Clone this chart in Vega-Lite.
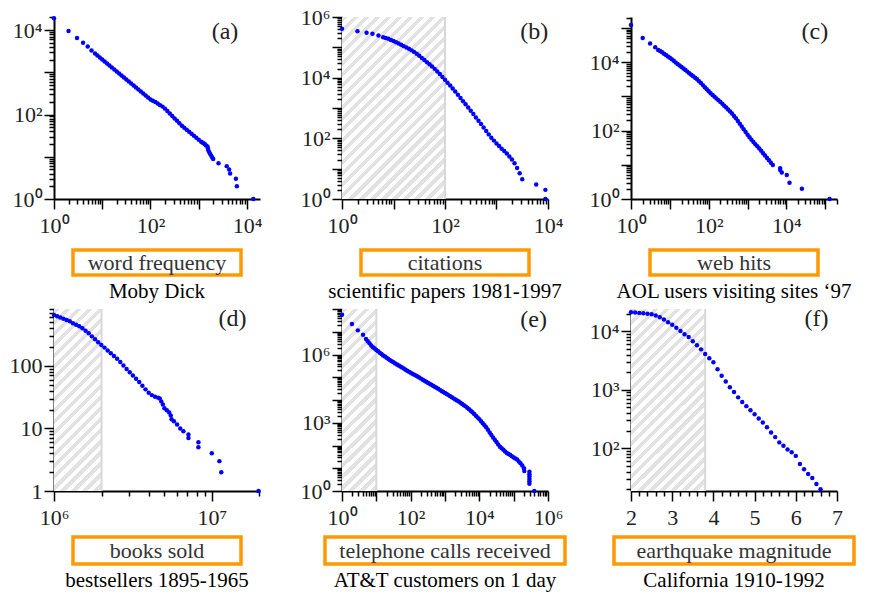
{
"$schema": "https://vega.github.io/schema/vega-lite/v6.json",
"background": "white",
"padding": {"left": 9, "top": 6, "right": 0, "bottom": 0},
"config": {
  "view": {"stroke": null},
  "font": "Liberation Serif",
  "axis": {"grid": false, "domainColor": "#000", "domainWidth": 2, "tickColor": "#000", "tickWidth": 1.5, "tickCount": 100, "labelFont": "Liberation Serif", "labelFontSize": 22, "labelColor": "#222", "labelFlush": false, "labelOverlap": false},
  "axisX": {"labelPadding": 6},
  "axisY": {"labelPadding": 2},
  "title": {"font": "Liberation Serif", "fontSize": 21, "fontWeight": "normal", "color": "#000", "offset": 6}
},
"datasets": {
  "a": [{"x":1,"y":19000},{"x":2,"y":9500},{"x":3,"y":6500},{"x":4,"y":5000},{"x":5,"y":4100},{"x":6,"y":3300},{"x":7.08,"y":2800},{"x":7.94,"y":2506},{"x":8.91,"y":2246},{"x":10,"y":2014},{"x":11.2,"y":1805},{"x":12.6,"y":1618},{"x":14.1,"y":1450},{"x":15.8,"y":1300},{"x":17.8,"y":1166},{"x":20,"y":1045},{"x":22.4,"y":937},{"x":25.1,"y":839},{"x":28.2,"y":752},{"x":31.6,"y":675},{"x":35.5,"y":605},{"x":39.8,"y":542},{"x":44.7,"y":486},{"x":50.1,"y":436},{"x":56.2,"y":390},{"x":63.1,"y":350},{"x":70.8,"y":314},{"x":79.4,"y":281},{"x":89.1,"y":252},{"x":100,"y":226},{"x":112,"y":212},{"x":126,"y":199},{"x":141,"y":183},{"x":158,"y":167},{"x":178,"y":154},{"x":200,"y":138},{"x":224,"y":121},{"x":251,"y":106},{"x":282,"y":92.6},{"x":316,"y":81},{"x":355,"y":71},{"x":398,"y":62.2},{"x":447,"y":54.5},{"x":501,"y":48.9},{"x":562,"y":43.8},{"x":631,"y":39.3},{"x":708,"y":35.2},{"x":794,"y":31.5},{"x":891,"y":28.3},{"x":1000,"y":25.4},{"x":1122,"y":22.7},{"x":1190,"y":21.8},{"x":1259,"y":20.9},{"x":1340,"y":19.8},{"x":1413,"y":18.6},{"x":1514,"y":17.4},{"x":1550,"y":15.8},{"x":1585,"y":14.1},{"x":1660,"y":12.6},{"x":1740,"y":11.5},{"x":1820,"y":10.5},{"x":1900,"y":9.6},{"x":1995,"y":8.9},{"x":2570,"y":7},{"x":3800,"y":6},{"x":4266,"y":5},{"x":4467,"y":4},{"x":5888,"y":3},{"x":6166,"y":2},{"x":13490,"y":1}],
  "b": [{"x":1,"y":407000},{"x":2,"y":339000},{"x":3,"y":302000},{"x":3.9,"y":282000},{"x":5.1,"y":245000},{"x":6.31,"y":214000},{"x":7.08,"y":202000},{"x":7.94,"y":190500},{"x":8.91,"y":175800},{"x":10,"y":162200},{"x":11.2,"y":147900},{"x":12.6,"y":134900},{"x":14.1,"y":121600},{"x":15.8,"y":109600},{"x":17.8,"y":98900},{"x":20,"y":89100},{"x":22.4,"y":79400},{"x":25.1,"y":70800},{"x":28.2,"y":61000},{"x":31.6,"y":52500},{"x":35.5,"y":44700},{"x":39.8,"y":38000},{"x":44.7,"y":32400},{"x":50.1,"y":27500},{"x":56.2,"y":23200},{"x":63.1,"y":19500},{"x":70.8,"y":16000},{"x":79.4,"y":13200},{"x":89.1,"y":10600},{"x":100,"y":8510},{"x":112,"y":6840},{"x":126,"y":5500},{"x":141,"y":4370},{"x":158,"y":3470},{"x":178,"y":2720},{"x":200,"y":2140},{"x":224,"y":1680},{"x":251,"y":1320},{"x":282,"y":1035},{"x":316,"y":813},{"x":355,"y":631},{"x":398,"y":490},{"x":447,"y":380},{"x":501,"y":295},{"x":562,"y":226},{"x":631,"y":174},{"x":708,"y":135},{"x":794,"y":105},{"x":891,"y":84.1},{"x":1000,"y":67.6},{"x":1122,"y":55.6},{"x":1259,"y":45.7},{"x":1413,"y":38},{"x":1585,"y":31.6},{"x":1778,"y":25.1},{"x":1995,"y":20},{"x":2239,"y":15.1},{"x":2512,"y":10.5},{"x":2818,"y":7.1},{"x":3162,"y":4.5},{"x":5900,"y":3},{"x":8900,"y":2},{"x":8900,"y":1}],
  "c": [{"x":1,"y":123000},{"x":2,"y":51300},{"x":3.1,"y":35500},{"x":4.2,"y":27500},{"x":5,"y":22900},{"x":5.62,"y":21400},{"x":6.31,"y":19500},{"x":7.08,"y":17800},{"x":7.94,"y":16200},{"x":8.91,"y":14800},{"x":10,"y":13500},{"x":11.2,"y":12200},{"x":12.6,"y":11000},{"x":14.1,"y":9890},{"x":15.8,"y":8910},{"x":17.8,"y":8040},{"x":20,"y":7240},{"x":22.4,"y":6530},{"x":25.1,"y":5890},{"x":28.2,"y":5310},{"x":31.6,"y":4790},{"x":35.5,"y":4320},{"x":39.8,"y":3890},{"x":44.7,"y":3510},{"x":50.1,"y":3160},{"x":56.2,"y":2790},{"x":63.1,"y":2450},{"x":70.8,"y":2140},{"x":79.4,"y":1860},{"x":89.1,"y":1620},{"x":100,"y":1410},{"x":112,"y":1245},{"x":126,"y":1096},{"x":141,"y":977},{"x":158,"y":871},{"x":178,"y":776},{"x":200,"y":692},{"x":224,"y":610},{"x":251,"y":537},{"x":282,"y":473},{"x":316,"y":417},{"x":355,"y":363},{"x":398,"y":316},{"x":447,"y":269},{"x":501,"y":229},{"x":562,"y":191},{"x":631,"y":158},{"x":708,"y":132},{"x":794,"y":110},{"x":891,"y":91.2},{"x":1000,"y":75.9},{"x":1122,"y":63.8},{"x":1259,"y":53.7},{"x":1413,"y":46.2},{"x":1585,"y":39.8},{"x":1778,"y":34.7},{"x":1995,"y":30.2},{"x":2239,"y":25.7},{"x":2512,"y":21.9},{"x":2818,"y":18.6},{"x":3162,"y":15.8},{"x":3548,"y":13.5},{"x":3981,"y":11.5},{"x":4467,"y":9.8},{"x":6900,"y":8},{"x":6900,"y":7},{"x":7600,"y":6},{"x":10200,"y":5},{"x":12000,"y":3},{"x":25000,"y":2},{"x":129000,"y":1}],
  "d": [{"x":1000000,"y":646},{"x":1047000,"y":617},{"x":1096000,"y":589},{"x":1148000,"y":562},{"x":1202000,"y":537},{"x":1259000,"y":513},{"x":1318000,"y":479},{"x":1380000,"y":452},{"x":1445000,"y":427},{"x":1514000,"y":398},{"x":1585000,"y":363},{"x":1660000,"y":331},{"x":1738000,"y":295},{"x":1820000,"y":266},{"x":1905000,"y":237},{"x":1995000,"y":214},{"x":2089000,"y":195},{"x":2188000,"y":176},{"x":2291000,"y":158},{"x":2399000,"y":143},{"x":2512000,"y":129},{"x":2630000,"y":115},{"x":2754000,"y":101},{"x":2884000,"y":89},{"x":3020000,"y":79},{"x":3162000,"y":70},{"x":3311000,"y":62},{"x":3467000,"y":55},{"x":3631000,"y":48},{"x":3802000,"y":42},{"x":3981000,"y":37},{"x":4169000,"y":34},{"x":4365000,"y":32},{"x":4571000,"y":31},{"x":4677000,"y":30},{"x":4786000,"y":27},{"x":4898000,"y":24},{"x":5012000,"y":21},{"x":5188000,"y":19.5},{"x":5370000,"y":18},{"x":5495000,"y":16},{"x":5559000,"y":14},{"x":5754000,"y":13},{"x":6026000,"y":11.5},{"x":6310000,"y":10},{"x":6607000,"y":9},{"x":7112000,"y":8},{"x":7112000,"y":7},{"x":8222000,"y":6},{"x":8222000,"y":5},{"x":10000000,"y":4},{"x":11170000,"y":3},{"x":11480000,"y":2},{"x":19770000,"y":1}],
  "e": [{"x":1,"y":56000000},{"x":1.95,"y":22000000},{"x":2.9,"y":11500000},{"x":4.1,"y":7400000},{"x":5,"y":4800000},{"x":5.62,"y":3800000},{"x":6.31,"y":3090000},{"x":7.08,"y":2510000},{"x":7.94,"y":2090000},{"x":8.91,"y":1820000},{"x":10,"y":1585000},{"x":11.2,"y":1380000},{"x":12.6,"y":1202000},{"x":14.1,"y":1047000},{"x":15.8,"y":912000},{"x":17.8,"y":808000},{"x":20,"y":716000},{"x":22.4,"y":635000},{"x":25.1,"y":562000},{"x":28.2,"y":504000},{"x":31.6,"y":452000},{"x":35.5,"y":405000},{"x":39.8,"y":363000},{"x":44.7,"y":327000},{"x":50.1,"y":295000},{"x":56.2,"y":266000},{"x":63.1,"y":240000},{"x":70.8,"y":216000},{"x":79.4,"y":195000},{"x":89.1,"y":176000},{"x":100,"y":158500},{"x":112,"y":143700},{"x":126,"y":130300},{"x":141,"y":118200},{"x":158,"y":107200},{"x":178,"y":96600},{"x":200,"y":87100},{"x":224,"y":78500},{"x":251,"y":70800},{"x":282,"y":63800},{"x":316,"y":57500},{"x":355,"y":51900},{"x":398,"y":46800},{"x":447,"y":42200},{"x":501,"y":38000},{"x":562,"y":34300},{"x":631,"y":30900},{"x":708,"y":27900},{"x":794,"y":25100},{"x":891,"y":22600},{"x":1000,"y":20400},{"x":1122,"y":18300},{"x":1259,"y":16400},{"x":1413,"y":14700},{"x":1585,"y":13200},{"x":1778,"y":11800},{"x":1995,"y":10600},{"x":2239,"y":9500},{"x":2512,"y":8510},{"x":2818,"y":7540},{"x":3162,"y":6680},{"x":3548,"y":5920},{"x":3981,"y":5250},{"x":4467,"y":4520},{"x":5012,"y":3890},{"x":5623,"y":3350},{"x":6310,"y":2880},{"x":7079,"y":2430},{"x":7943,"y":2040},{"x":8913,"y":1720},{"x":10000,"y":1445},{"x":11220,"y":1175},{"x":12589,"y":955},{"x":14125,"y":776},{"x":15849,"y":631},{"x":17783,"y":487},{"x":19953,"y":376},{"x":22387,"y":290},{"x":25119,"y":224},{"x":28184,"y":178},{"x":31623,"y":141},{"x":35481,"y":112},{"x":39811,"y":89},{"x":44668,"y":75.9},{"x":50119,"y":65},{"x":56234,"y":55},{"x":63096,"y":47},{"x":70795,"y":41.9},{"x":79433,"y":38},{"x":89125,"y":33.7},{"x":100000,"y":30},{"x":112202,"y":26.9},{"x":125893,"y":24},{"x":141254,"y":20},{"x":158489,"y":16.6},{"x":177828,"y":13.2},{"x":199526,"y":10},{"x":204000,"y":7.6},{"x":288000,"y":7},{"x":288000,"y":5.5},{"x":288000,"y":4.3},{"x":288000,"y":3.4},{"x":288000,"y":2.7},{"x":288000,"y":2.1},{"x":398000,"y":1}],
  "f": [{"x":2,"y":21200},{"x":2.1,"y":20900},{"x":2.2,"y":20600},{"x":2.3,"y":20300},{"x":2.4,"y":19950},{"x":2.5,"y":19500},{"x":2.6,"y":18600},{"x":2.7,"y":17400},{"x":2.8,"y":15850},{"x":2.9,"y":14300},{"x":3,"y":12900},{"x":3.1,"y":11500},{"x":3.2,"y":10100},{"x":3.3,"y":8900},{"x":3.4,"y":7940},{"x":3.5,"y":6760},{"x":3.6,"y":5750},{"x":3.7,"y":4900},{"x":3.8,"y":4070},{"x":3.9,"y":3470},{"x":4,"y":2950},{"x":4.1,"y":2240},{"x":4.2,"y":1740},{"x":4.3,"y":1380},{"x":4.4,"y":1100},{"x":4.5,"y":912},{"x":4.6,"y":741},{"x":4.7,"y":617},{"x":4.8,"y":525},{"x":4.9,"y":447},{"x":5,"y":380},{"x":5.1,"y":324},{"x":5.2,"y":275},{"x":5.3,"y":229},{"x":5.4,"y":186},{"x":5.5,"y":155},{"x":5.6,"y":126},{"x":5.7,"y":110},{"x":5.8,"y":95.5},{"x":5.9,"y":85.1},{"x":6,"y":74.1},{"x":6.1,"y":53.7},{"x":6.2,"y":43.7},{"x":6.3,"y":36.3},{"x":6.4,"y":30.9},{"x":6.5,"y":24.5},{"x":6.6,"y":20}]
},
"spacing": 0,
"hconcat": [
 {"vconcat": [
  {"width": 206, "height": 182, "layer": [
   {"data": {"name": "a"}, "mark": {"type": "circle", "size": 20, "color": "#0000ff", "opacity": 1},
    "encoding": {
     "x": {"field": "x", "type": "quantitative", "scale": {"type": "log", "domain": [1, 18600], "nice": false}, "axis": {"title": null, "values": [1,2,3,4,5,6,7,8,9,10,20,30,40,50,60,70,80,90,100,200,300,400,500,600,700,800,900,1000,2000,3000,4000,5000,6000,7000,8000,9000,10000], "labelExpr": "datum.value==1?'10⁰':datum.value==100?'10²':datum.value==10000?'10⁴':''", "tickSize": {"condition": {"test": "abs(log(datum.value)/LN10-round(log(datum.value)/LN10))<0.001", "value": 10}, "value": 5}}},
     "y": {"field": "y", "type": "quantitative", "scale": {"type": "log", "domain": [1, 20400], "nice": false}, "axis": {"title": null, "values": [1,2,3,4,5,6,7,8,9,10,20,30,40,50,60,70,80,90,100,200,300,400,500,600,700,800,900,1000,2000,3000,4000,5000,6000,7000,8000,9000,10000,20000], "labelExpr": "datum.value==1?'10⁰':datum.value==100?'10²':datum.value==10000?'10⁴':''", "tickSize": {"condition": {"test": "abs(log(datum.value)/LN10-round(log(datum.value)/LN10))<0.001", "value": 10}, "value": 5}}}
    }},
   {"data": {"values": [{}]}, "mark": {"type": "text", "text": "(a)", "font": "Liberation Serif", "fontSize": 24, "color": "#222", "align": "center", "baseline": "middle"}, "encoding": {"x": {"datum": 3500, "type": "quantitative"}, "y": {"datum": 8900, "type": "quantitative"}}}
  ]},
  {"width": 240, "height": 51, "data": {"values": [{}]}, "mark": {"type": "text", "text": ""}},
  {"width": 168, "height": 25, "view": {"stroke": "#ff9900", "strokeWidth": 3.5}, "data": {"values": [{}]}, "mark": {"type": "text", "text": "word frequency", "font": "Liberation Serif", "fontSize": 22, "color": "#333", "align": "center", "baseline": "middle"}, "title": {"text": "Moby Dick", "orient": "bottom"}},
  {"width": 240, "height": 34, "data": {"values": [{}]}, "mark": {"type": "text", "text": ""}},
  {"width": 206, "height": 182, "layer": [
   {"data": {"values": [{}]}, "mark": {"type": "rect", "fill": {"gradient": "linear", "x1": 0, "y1": 0, "x2": 0.7405, "y2": 2.8373, "stops": [{"offset":0,"color":"#e2e2e2"},{"offset":0.01,"color":"#e2e2e2"},{"offset":0.01,"color":"#ffffff"},{"offset":0.02,"color":"#ffffff"},{"offset":0.02,"color":"#e2e2e2"},{"offset":0.03,"color":"#e2e2e2"},{"offset":0.03,"color":"#ffffff"},{"offset":0.04,"color":"#ffffff"},{"offset":0.04,"color":"#e2e2e2"},{"offset":0.05,"color":"#e2e2e2"},{"offset":0.05,"color":"#ffffff"},{"offset":0.06,"color":"#ffffff"},{"offset":0.06,"color":"#e2e2e2"},{"offset":0.07,"color":"#e2e2e2"},{"offset":0.07,"color":"#ffffff"},{"offset":0.08,"color":"#ffffff"},{"offset":0.08,"color":"#e2e2e2"},{"offset":0.09,"color":"#e2e2e2"},{"offset":0.09,"color":"#ffffff"},{"offset":0.1,"color":"#ffffff"},{"offset":0.1,"color":"#e2e2e2"},{"offset":0.11,"color":"#e2e2e2"},{"offset":0.11,"color":"#ffffff"},{"offset":0.12,"color":"#ffffff"},{"offset":0.12,"color":"#e2e2e2"},{"offset":0.13,"color":"#e2e2e2"},{"offset":0.13,"color":"#ffffff"},{"offset":0.14,"color":"#ffffff"},{"offset":0.14,"color":"#e2e2e2"},{"offset":0.15,"color":"#e2e2e2"},{"offset":0.15,"color":"#ffffff"},{"offset":0.16,"color":"#ffffff"},{"offset":0.16,"color":"#e2e2e2"},{"offset":0.17,"color":"#e2e2e2"},{"offset":0.17,"color":"#ffffff"},{"offset":0.18,"color":"#ffffff"},{"offset":0.18,"color":"#e2e2e2"},{"offset":0.19,"color":"#e2e2e2"},{"offset":0.19,"color":"#ffffff"},{"offset":0.2,"color":"#ffffff"},{"offset":0.2,"color":"#e2e2e2"},{"offset":0.21,"color":"#e2e2e2"},{"offset":0.21,"color":"#ffffff"},{"offset":0.22,"color":"#ffffff"},{"offset":0.22,"color":"#e2e2e2"},{"offset":0.23,"color":"#e2e2e2"},{"offset":0.23,"color":"#ffffff"},{"offset":0.24,"color":"#ffffff"},{"offset":0.24,"color":"#e2e2e2"},{"offset":0.25,"color":"#e2e2e2"},{"offset":0.25,"color":"#ffffff"},{"offset":0.26,"color":"#ffffff"},{"offset":0.26,"color":"#e2e2e2"},{"offset":0.27,"color":"#e2e2e2"},{"offset":0.27,"color":"#ffffff"},{"offset":0.28,"color":"#ffffff"},{"offset":0.28,"color":"#e2e2e2"},{"offset":0.29,"color":"#e2e2e2"},{"offset":0.29,"color":"#ffffff"},{"offset":0.3,"color":"#ffffff"},{"offset":0.3,"color":"#e2e2e2"},{"offset":0.31,"color":"#e2e2e2"},{"offset":0.31,"color":"#ffffff"},{"offset":0.32,"color":"#ffffff"},{"offset":0.32,"color":"#e2e2e2"},{"offset":0.33,"color":"#e2e2e2"},{"offset":0.33,"color":"#ffffff"},{"offset":0.34,"color":"#ffffff"},{"offset":0.34,"color":"#e2e2e2"},{"offset":0.35,"color":"#e2e2e2"},{"offset":0.35,"color":"#ffffff"},{"offset":0.36,"color":"#ffffff"},{"offset":0.36,"color":"#e2e2e2"},{"offset":0.37,"color":"#e2e2e2"},{"offset":0.37,"color":"#ffffff"},{"offset":0.38,"color":"#ffffff"},{"offset":0.38,"color":"#e2e2e2"},{"offset":0.39,"color":"#e2e2e2"},{"offset":0.39,"color":"#ffffff"},{"offset":0.4,"color":"#ffffff"},{"offset":0.4,"color":"#e2e2e2"},{"offset":0.41,"color":"#e2e2e2"},{"offset":0.41,"color":"#ffffff"},{"offset":0.42,"color":"#ffffff"},{"offset":0.42,"color":"#e2e2e2"},{"offset":0.43,"color":"#e2e2e2"},{"offset":0.43,"color":"#ffffff"},{"offset":0.44,"color":"#ffffff"}]}}, "encoding": {"x": {"datum": 1000000, "type": "quantitative"}, "x2": {"datum": 2000000}}},
   {"data": {"values": [{}]}, "mark": {"type": "rule", "color": "#d8d8d8", "strokeWidth": 2}, "encoding": {"x": {"datum": 2000000, "type": "quantitative"}}},
   {"data": {"name": "d"}, "mark": {"type": "circle", "size": 20, "color": "#0000ff", "opacity": 1},
    "encoding": {
     "x": {"field": "x", "type": "quantitative", "scale": {"type": "log", "domain": [1000000, 20200000], "nice": false}, "axis": {"title": null, "values": [1000000,2000000,3000000,4000000,5000000,6000000,7000000,8000000,9000000,10000000,20000000], "labelExpr": "datum.value==1000000?'10⁶':datum.value==10000000?'10⁷':''", "tickSize": {"condition": {"test": "abs(log(datum.value)/LN10-round(log(datum.value)/LN10))<0.001", "value": 10}, "value": 5}}},
     "y": {"field": "y", "type": "quantitative", "scale": {"type": "log", "domain": [1, 807], "nice": false}, "axis": {"title": null, "values": [1,2,3,4,5,6,7,8,9,10,20,30,40,50,60,70,80,90,100,200,300,400,500,600,700,800], "labelExpr": "datum.value==1?'1':datum.value==10?'10':datum.value==100?'100':''", "tickSize": {"condition": {"test": "abs(log(datum.value)/LN10-round(log(datum.value)/LN10))<0.001", "value": 10}, "value": 5}}}
    }},
   {"data": {"values": [{}]}, "mark": {"type": "text", "text": "(d)", "font": "Liberation Serif", "fontSize": 24, "color": "#222", "align": "center", "baseline": "middle"}, "encoding": {"x": {"datum": 13500000, "type": "quantitative"}, "y": {"datum": 560, "type": "quantitative"}}}
  ]},
  {"width": 240, "height": 45.5, "data": {"values": [{}]}, "mark": {"type": "text", "text": ""}},
  {"width": 168, "height": 27, "view": {"stroke": "#ff9900", "strokeWidth": 3.5}, "data": {"values": [{}]}, "mark": {"type": "text", "text": "books sold", "font": "Liberation Serif", "fontSize": 22, "color": "#333", "align": "center", "baseline": "middle"}, "title": {"text": "bestsellers 1895-1965", "orient": "bottom"}}
 ], "spacing": 0, "bounds": "flush", "center": true},

 {"width": 23, "height": 10, "data": {"values": [{}]}, "mark": {"type": "text", "text": ""}},

 {"vconcat": [
  {"width": 206, "height": 182, "layer": [
   {"data": {"values": [{}]}, "mark": {"type": "rect", "fill": {"gradient": "linear", "x1": 0, "y1": 0, "x2": 1.2987, "y2": 2.2949, "stops": [{"offset":0,"color":"#e2e2e2"},{"offset":0.01,"color":"#e2e2e2"},{"offset":0.01,"color":"#ffffff"},{"offset":0.02,"color":"#ffffff"},{"offset":0.02,"color":"#e2e2e2"},{"offset":0.03,"color":"#e2e2e2"},{"offset":0.03,"color":"#ffffff"},{"offset":0.04,"color":"#ffffff"},{"offset":0.04,"color":"#e2e2e2"},{"offset":0.05,"color":"#e2e2e2"},{"offset":0.05,"color":"#ffffff"},{"offset":0.06,"color":"#ffffff"},{"offset":0.06,"color":"#e2e2e2"},{"offset":0.07,"color":"#e2e2e2"},{"offset":0.07,"color":"#ffffff"},{"offset":0.08,"color":"#ffffff"},{"offset":0.08,"color":"#e2e2e2"},{"offset":0.09,"color":"#e2e2e2"},{"offset":0.09,"color":"#ffffff"},{"offset":0.1,"color":"#ffffff"},{"offset":0.1,"color":"#e2e2e2"},{"offset":0.11,"color":"#e2e2e2"},{"offset":0.11,"color":"#ffffff"},{"offset":0.12,"color":"#ffffff"},{"offset":0.12,"color":"#e2e2e2"},{"offset":0.13,"color":"#e2e2e2"},{"offset":0.13,"color":"#ffffff"},{"offset":0.14,"color":"#ffffff"},{"offset":0.14,"color":"#e2e2e2"},{"offset":0.15,"color":"#e2e2e2"},{"offset":0.15,"color":"#ffffff"},{"offset":0.16,"color":"#ffffff"},{"offset":0.16,"color":"#e2e2e2"},{"offset":0.17,"color":"#e2e2e2"},{"offset":0.17,"color":"#ffffff"},{"offset":0.18,"color":"#ffffff"},{"offset":0.18,"color":"#e2e2e2"},{"offset":0.19,"color":"#e2e2e2"},{"offset":0.19,"color":"#ffffff"},{"offset":0.2,"color":"#ffffff"},{"offset":0.2,"color":"#e2e2e2"},{"offset":0.21,"color":"#e2e2e2"},{"offset":0.21,"color":"#ffffff"},{"offset":0.22,"color":"#ffffff"},{"offset":0.22,"color":"#e2e2e2"},{"offset":0.23,"color":"#e2e2e2"},{"offset":0.23,"color":"#ffffff"},{"offset":0.24,"color":"#ffffff"},{"offset":0.24,"color":"#e2e2e2"},{"offset":0.25,"color":"#e2e2e2"},{"offset":0.25,"color":"#ffffff"},{"offset":0.26,"color":"#ffffff"},{"offset":0.26,"color":"#e2e2e2"},{"offset":0.27,"color":"#e2e2e2"},{"offset":0.27,"color":"#ffffff"},{"offset":0.28,"color":"#ffffff"},{"offset":0.28,"color":"#e2e2e2"},{"offset":0.29,"color":"#e2e2e2"},{"offset":0.29,"color":"#ffffff"},{"offset":0.3,"color":"#ffffff"},{"offset":0.3,"color":"#e2e2e2"},{"offset":0.31,"color":"#e2e2e2"},{"offset":0.31,"color":"#ffffff"},{"offset":0.32,"color":"#ffffff"},{"offset":0.32,"color":"#e2e2e2"},{"offset":0.33,"color":"#e2e2e2"},{"offset":0.33,"color":"#ffffff"},{"offset":0.34,"color":"#ffffff"},{"offset":0.34,"color":"#e2e2e2"},{"offset":0.35,"color":"#e2e2e2"},{"offset":0.35,"color":"#ffffff"},{"offset":0.36,"color":"#ffffff"},{"offset":0.36,"color":"#e2e2e2"},{"offset":0.37,"color":"#e2e2e2"},{"offset":0.37,"color":"#ffffff"},{"offset":0.38,"color":"#ffffff"},{"offset":0.38,"color":"#e2e2e2"},{"offset":0.39,"color":"#e2e2e2"},{"offset":0.39,"color":"#ffffff"},{"offset":0.4,"color":"#ffffff"},{"offset":0.4,"color":"#e2e2e2"},{"offset":0.41,"color":"#e2e2e2"},{"offset":0.41,"color":"#ffffff"},{"offset":0.42,"color":"#ffffff"},{"offset":0.42,"color":"#e2e2e2"},{"offset":0.43,"color":"#e2e2e2"},{"offset":0.43,"color":"#ffffff"},{"offset":0.44,"color":"#ffffff"},{"offset":0.44,"color":"#e2e2e2"},{"offset":0.45,"color":"#e2e2e2"},{"offset":0.45,"color":"#ffffff"},{"offset":0.46,"color":"#ffffff"},{"offset":0.46,"color":"#e2e2e2"},{"offset":0.47,"color":"#e2e2e2"},{"offset":0.47,"color":"#ffffff"},{"offset":0.48,"color":"#ffffff"},{"offset":0.48,"color":"#e2e2e2"},{"offset":0.49,"color":"#e2e2e2"},{"offset":0.49,"color":"#ffffff"},{"offset":0.5,"color":"#ffffff"},{"offset":0.5,"color":"#e2e2e2"},{"offset":0.51,"color":"#e2e2e2"},{"offset":0.51,"color":"#ffffff"},{"offset":0.52,"color":"#ffffff"},{"offset":0.52,"color":"#e2e2e2"},{"offset":0.53,"color":"#e2e2e2"},{"offset":0.53,"color":"#ffffff"},{"offset":0.54,"color":"#ffffff"}]}}, "encoding": {"x": {"datum": 1, "type": "quantitative"}, "x2": {"datum": 100}}},
   {"data": {"values": [{}]}, "mark": {"type": "rule", "color": "#d8d8d8", "strokeWidth": 2}, "encoding": {"x": {"datum": 100, "type": "quantitative"}}},
   {"data": {"name": "b"}, "mark": {"type": "circle", "size": 20, "color": "#0000ff", "opacity": 1},
    "encoding": {
     "x": {"field": "x", "type": "quantitative", "scale": {"type": "log", "domain": [1, 10000], "nice": false}, "axis": {"title": null, "values": [1,2,3,4,5,6,7,8,9,10,20,30,40,50,60,70,80,90,100,200,300,400,500,600,700,800,900,1000,2000,3000,4000,5000,6000,7000,8000,9000,10000], "labelExpr": "datum.value==1?'10⁰':datum.value==100?'10²':datum.value==10000?'10⁴':''", "tickSize": {"condition": {"test": "abs(log(datum.value)/LN10-round(log(datum.value)/LN10))<0.001", "value": 10}, "value": 5}}},
     "y": {"field": "y", "type": "quantitative", "scale": {"type": "log", "domain": [1, 1000000], "nice": false}, "axis": {"title": null, "values": [1,2,3,4,5,6,7,8,9,10,20,30,40,50,60,70,80,90,100,200,300,400,500,600,700,800,900,1000,2000,3000,4000,5000,6000,7000,8000,9000,10000,20000,30000,40000,50000,60000,70000,80000,90000,100000,200000,300000,400000,500000,600000,700000,800000,900000,1000000], "labelExpr": "datum.value==1?'10⁰':datum.value==100?'10²':datum.value==10000?'10⁴':datum.value==1000000?'10⁶':''", "tickSize": {"condition": {"test": "abs(log(datum.value)/LN10-round(log(datum.value)/LN10))<0.001", "value": 10}, "value": 5}}}
    }},
   {"data": {"values": [{}]}, "mark": {"type": "text", "text": "(b)", "font": "Liberation Serif", "fontSize": 24, "color": "#222", "align": "center", "baseline": "middle"}, "encoding": {"x": {"datum": 5400, "type": "quantitative"}, "y": {"datum": 320000, "type": "quantitative"}}}
  ]},
  {"width": 240, "height": 51, "data": {"values": [{}]}, "mark": {"type": "text", "text": ""}},
  {"width": 168, "height": 25, "view": {"stroke": "#ff9900", "strokeWidth": 3.5}, "data": {"values": [{}]}, "mark": {"type": "text", "text": "citations", "font": "Liberation Serif", "fontSize": 22, "color": "#333", "align": "center", "baseline": "middle"}, "title": {"text": "scientific papers 1981-1997", "orient": "bottom"}},
  {"width": 240, "height": 34, "data": {"values": [{}]}, "mark": {"type": "text", "text": ""}},
  {"width": 206, "height": 182, "layer": [
   {"data": {"values": [{}]}, "mark": {"type": "rect", "fill": {"gradient": "linear", "x1": 0, "y1": 0, "x2": 0.547, "y2": 2.928, "stops": [{"offset":0,"color":"#e2e2e2"},{"offset":0.01,"color":"#e2e2e2"},{"offset":0.01,"color":"#ffffff"},{"offset":0.02,"color":"#ffffff"},{"offset":0.02,"color":"#e2e2e2"},{"offset":0.03,"color":"#e2e2e2"},{"offset":0.03,"color":"#ffffff"},{"offset":0.04,"color":"#ffffff"},{"offset":0.04,"color":"#e2e2e2"},{"offset":0.05,"color":"#e2e2e2"},{"offset":0.05,"color":"#ffffff"},{"offset":0.06,"color":"#ffffff"},{"offset":0.06,"color":"#e2e2e2"},{"offset":0.07,"color":"#e2e2e2"},{"offset":0.07,"color":"#ffffff"},{"offset":0.08,"color":"#ffffff"},{"offset":0.08,"color":"#e2e2e2"},{"offset":0.09,"color":"#e2e2e2"},{"offset":0.09,"color":"#ffffff"},{"offset":0.1,"color":"#ffffff"},{"offset":0.1,"color":"#e2e2e2"},{"offset":0.11,"color":"#e2e2e2"},{"offset":0.11,"color":"#ffffff"},{"offset":0.12,"color":"#ffffff"},{"offset":0.12,"color":"#e2e2e2"},{"offset":0.13,"color":"#e2e2e2"},{"offset":0.13,"color":"#ffffff"},{"offset":0.14,"color":"#ffffff"},{"offset":0.14,"color":"#e2e2e2"},{"offset":0.15,"color":"#e2e2e2"},{"offset":0.15,"color":"#ffffff"},{"offset":0.16,"color":"#ffffff"},{"offset":0.16,"color":"#e2e2e2"},{"offset":0.17,"color":"#e2e2e2"},{"offset":0.17,"color":"#ffffff"},{"offset":0.18,"color":"#ffffff"},{"offset":0.18,"color":"#e2e2e2"},{"offset":0.19,"color":"#e2e2e2"},{"offset":0.19,"color":"#ffffff"},{"offset":0.2,"color":"#ffffff"},{"offset":0.2,"color":"#e2e2e2"},{"offset":0.21,"color":"#e2e2e2"},{"offset":0.21,"color":"#ffffff"},{"offset":0.22,"color":"#ffffff"},{"offset":0.22,"color":"#e2e2e2"},{"offset":0.23,"color":"#e2e2e2"},{"offset":0.23,"color":"#ffffff"},{"offset":0.24,"color":"#ffffff"},{"offset":0.24,"color":"#e2e2e2"},{"offset":0.25,"color":"#e2e2e2"},{"offset":0.25,"color":"#ffffff"},{"offset":0.26,"color":"#ffffff"},{"offset":0.26,"color":"#e2e2e2"},{"offset":0.27,"color":"#e2e2e2"},{"offset":0.27,"color":"#ffffff"},{"offset":0.28,"color":"#ffffff"},{"offset":0.28,"color":"#e2e2e2"},{"offset":0.29,"color":"#e2e2e2"},{"offset":0.29,"color":"#ffffff"},{"offset":0.3,"color":"#ffffff"},{"offset":0.3,"color":"#e2e2e2"},{"offset":0.31,"color":"#e2e2e2"},{"offset":0.31,"color":"#ffffff"},{"offset":0.32,"color":"#ffffff"},{"offset":0.32,"color":"#e2e2e2"},{"offset":0.33,"color":"#e2e2e2"},{"offset":0.33,"color":"#ffffff"},{"offset":0.34,"color":"#ffffff"},{"offset":0.34,"color":"#e2e2e2"},{"offset":0.35,"color":"#e2e2e2"},{"offset":0.35,"color":"#ffffff"},{"offset":0.36,"color":"#ffffff"},{"offset":0.36,"color":"#e2e2e2"},{"offset":0.37,"color":"#e2e2e2"},{"offset":0.37,"color":"#ffffff"},{"offset":0.38,"color":"#ffffff"},{"offset":0.38,"color":"#e2e2e2"},{"offset":0.39,"color":"#e2e2e2"},{"offset":0.39,"color":"#ffffff"},{"offset":0.4,"color":"#ffffff"}]}}, "encoding": {"x": {"datum": 1, "type": "quantitative"}, "x2": {"datum": 10}}},
   {"data": {"values": [{}]}, "mark": {"type": "rule", "color": "#d8d8d8", "strokeWidth": 2}, "encoding": {"x": {"datum": 10, "type": "quantitative"}}},
   {"data": {"name": "e"}, "mark": {"type": "circle", "size": 20, "color": "#0000ff", "opacity": 1},
    "encoding": {
     "x": {"field": "x", "type": "quantitative", "scale": {"type": "log", "domain": [1, 1000000], "nice": false}, "axis": {"title": null, "values": [1,2,3,4,5,6,7,8,9,10,20,30,40,50,60,70,80,90,100,200,300,400,500,600,700,800,900,1000,2000,3000,4000,5000,6000,7000,8000,9000,10000,20000,30000,40000,50000,60000,70000,80000,90000,100000,200000,300000,400000,500000,600000,700000,800000,900000,1000000], "labelExpr": "datum.value==1?'10⁰':datum.value==100?'10²':datum.value==10000?'10⁴':datum.value==1000000?'10⁶':''", "tickSize": {"condition": {"test": "abs(log(datum.value)/LN10-round(log(datum.value)/LN10))<0.001", "value": 10}, "value": 5}}},
     "y": {"field": "y", "type": "quantitative", "scale": {"type": "log", "domain": [1, 100000000], "nice": false}, "axis": {"title": null, "values": [1,2,3,4,5,6,7,8,9,10,20,30,40,50,60,70,80,90,100,200,300,400,500,600,700,800,900,1000,2000,3000,4000,5000,6000,7000,8000,9000,10000,20000,30000,40000,50000,60000,70000,80000,90000,100000,200000,300000,400000,500000,600000,700000,800000,900000,1000000,2000000,3000000,4000000,5000000,6000000,7000000,8000000,9000000,10000000,20000000,30000000,40000000,50000000,60000000,70000000,80000000,90000000,100000000], "labelExpr": "datum.value==1?'10⁰':datum.value==1000?'10³':datum.value==1000000?'10⁶':''", "tickSize": {"condition": {"test": "abs(log(datum.value)/LN10-round(log(datum.value)/LN10))<0.001", "value": 10}, "value": 5}}}
    }},
   {"data": {"values": [{}]}, "mark": {"type": "text", "text": "(e)", "font": "Liberation Serif", "fontSize": 24, "color": "#222", "align": "center", "baseline": "middle"}, "encoding": {"x": {"datum": 380000, "type": "quantitative"}, "y": {"datum": 34000000, "type": "quantitative"}}}
  ]},
  {"width": 240, "height": 45.5, "data": {"values": [{}]}, "mark": {"type": "text", "text": ""}},
  {"width": 240, "height": 27, "view": {"stroke": "#ff9900", "strokeWidth": 3.5}, "data": {"values": [{}]}, "mark": {"type": "text", "text": "telephone calls received", "font": "Liberation Serif", "fontSize": 22, "color": "#333", "align": "center", "baseline": "middle"}, "title": {"text": "AT&T customers on 1 day", "orient": "bottom"}}
 ], "spacing": 0, "bounds": "flush", "center": true},

 {"width": 22, "height": 10, "data": {"values": [{}]}, "mark": {"type": "text", "text": ""}},

 {"vconcat": [
  {"width": 206, "height": 182, "layer": [
   {"data": {"name": "c"}, "mark": {"type": "circle", "size": 20, "color": "#0000ff", "opacity": 1},
    "encoding": {
     "x": {"field": "x", "type": "quantitative", "scale": {"type": "log", "domain": [1, 200000], "nice": false}, "axis": {"title": null, "values": [1,2,3,4,5,6,7,8,9,10,20,30,40,50,60,70,80,90,100,200,300,400,500,600,700,800,900,1000,2000,3000,4000,5000,6000,7000,8000,9000,10000,20000,30000,40000,50000,60000,70000,80000,90000,100000,200000], "labelExpr": "datum.value==1?'10⁰':datum.value==100?'10²':datum.value==10000?'10⁴':''", "tickSize": {"condition": {"test": "abs(log(datum.value)/LN10-round(log(datum.value)/LN10))<0.001", "value": 10}, "value": 5}}},
     "y": {"field": "y", "type": "quantitative", "scale": {"type": "log", "domain": [1, 210000], "nice": false}, "axis": {"title": null, "values": [1,2,3,4,5,6,7,8,9,10,20,30,40,50,60,70,80,90,100,200,300,400,500,600,700,800,900,1000,2000,3000,4000,5000,6000,7000,8000,9000,10000,20000,30000,40000,50000,60000,70000,80000,90000,100000,200000], "labelExpr": "datum.value==1?'10⁰':datum.value==100?'10²':datum.value==10000?'10⁴':''", "tickSize": {"condition": {"test": "abs(log(datum.value)/LN10-round(log(datum.value)/LN10))<0.001", "value": 10}, "value": 5}}}
    }},
   {"data": {"values": [{}]}, "mark": {"type": "text", "text": "(c)", "font": "Liberation Serif", "fontSize": 24, "color": "#222", "align": "center", "baseline": "middle"}, "encoding": {"x": {"datum": 53700, "type": "quantitative"}, "y": {"datum": 76000, "type": "quantitative"}}}
  ]},
  {"width": 240, "height": 51, "data": {"values": [{}]}, "mark": {"type": "text", "text": ""}},
  {"width": 168, "height": 25, "view": {"stroke": "#ff9900", "strokeWidth": 3.5}, "data": {"values": [{}]}, "mark": {"type": "text", "text": "web hits", "font": "Liberation Serif", "fontSize": 22, "color": "#333", "align": "center", "baseline": "middle"}, "title": {"text": "AOL users visiting sites ‘97", "orient": "bottom"}},
  {"width": 240, "height": 34, "data": {"values": [{}]}, "mark": {"type": "text", "text": ""}},
  {"width": 206, "height": 182, "layer": [
   {"data": {"values": [{}]}, "mark": {"type": "rect", "fill": {"gradient": "linear", "x1": 0, "y1": 0, "x2": 1.0572, "y2": 2.6, "stops": [{"offset":0,"color":"#e2e2e2"},{"offset":0.01,"color":"#e2e2e2"},{"offset":0.01,"color":"#ffffff"},{"offset":0.02,"color":"#ffffff"},{"offset":0.02,"color":"#e2e2e2"},{"offset":0.03,"color":"#e2e2e2"},{"offset":0.03,"color":"#ffffff"},{"offset":0.04,"color":"#ffffff"},{"offset":0.04,"color":"#e2e2e2"},{"offset":0.05,"color":"#e2e2e2"},{"offset":0.05,"color":"#ffffff"},{"offset":0.06,"color":"#ffffff"},{"offset":0.06,"color":"#e2e2e2"},{"offset":0.07,"color":"#e2e2e2"},{"offset":0.07,"color":"#ffffff"},{"offset":0.08,"color":"#ffffff"},{"offset":0.08,"color":"#e2e2e2"},{"offset":0.09,"color":"#e2e2e2"},{"offset":0.09,"color":"#ffffff"},{"offset":0.1,"color":"#ffffff"},{"offset":0.1,"color":"#e2e2e2"},{"offset":0.11,"color":"#e2e2e2"},{"offset":0.11,"color":"#ffffff"},{"offset":0.12,"color":"#ffffff"},{"offset":0.12,"color":"#e2e2e2"},{"offset":0.13,"color":"#e2e2e2"},{"offset":0.13,"color":"#ffffff"},{"offset":0.14,"color":"#ffffff"},{"offset":0.14,"color":"#e2e2e2"},{"offset":0.15,"color":"#e2e2e2"},{"offset":0.15,"color":"#ffffff"},{"offset":0.16,"color":"#ffffff"},{"offset":0.16,"color":"#e2e2e2"},{"offset":0.17,"color":"#e2e2e2"},{"offset":0.17,"color":"#ffffff"},{"offset":0.18,"color":"#ffffff"},{"offset":0.18,"color":"#e2e2e2"},{"offset":0.19,"color":"#e2e2e2"},{"offset":0.19,"color":"#ffffff"},{"offset":0.2,"color":"#ffffff"},{"offset":0.2,"color":"#e2e2e2"},{"offset":0.21,"color":"#e2e2e2"},{"offset":0.21,"color":"#ffffff"},{"offset":0.22,"color":"#ffffff"},{"offset":0.22,"color":"#e2e2e2"},{"offset":0.23,"color":"#e2e2e2"},{"offset":0.23,"color":"#ffffff"},{"offset":0.24,"color":"#ffffff"},{"offset":0.24,"color":"#e2e2e2"},{"offset":0.25,"color":"#e2e2e2"},{"offset":0.25,"color":"#ffffff"},{"offset":0.26,"color":"#ffffff"},{"offset":0.26,"color":"#e2e2e2"},{"offset":0.27,"color":"#e2e2e2"},{"offset":0.27,"color":"#ffffff"},{"offset":0.28,"color":"#ffffff"},{"offset":0.28,"color":"#e2e2e2"},{"offset":0.29,"color":"#e2e2e2"},{"offset":0.29,"color":"#ffffff"},{"offset":0.3,"color":"#ffffff"},{"offset":0.3,"color":"#e2e2e2"},{"offset":0.31,"color":"#e2e2e2"},{"offset":0.31,"color":"#ffffff"},{"offset":0.32,"color":"#ffffff"},{"offset":0.32,"color":"#e2e2e2"},{"offset":0.33,"color":"#e2e2e2"},{"offset":0.33,"color":"#ffffff"},{"offset":0.34,"color":"#ffffff"},{"offset":0.34,"color":"#e2e2e2"},{"offset":0.35,"color":"#e2e2e2"},{"offset":0.35,"color":"#ffffff"},{"offset":0.36,"color":"#ffffff"},{"offset":0.36,"color":"#e2e2e2"},{"offset":0.37,"color":"#e2e2e2"},{"offset":0.37,"color":"#ffffff"},{"offset":0.38,"color":"#ffffff"},{"offset":0.38,"color":"#e2e2e2"},{"offset":0.39,"color":"#e2e2e2"},{"offset":0.39,"color":"#ffffff"},{"offset":0.4,"color":"#ffffff"},{"offset":0.4,"color":"#e2e2e2"},{"offset":0.41,"color":"#e2e2e2"},{"offset":0.41,"color":"#ffffff"},{"offset":0.42,"color":"#ffffff"},{"offset":0.42,"color":"#e2e2e2"},{"offset":0.43,"color":"#e2e2e2"},{"offset":0.43,"color":"#ffffff"},{"offset":0.44,"color":"#ffffff"},{"offset":0.44,"color":"#e2e2e2"},{"offset":0.45,"color":"#e2e2e2"},{"offset":0.45,"color":"#ffffff"},{"offset":0.46,"color":"#ffffff"},{"offset":0.46,"color":"#e2e2e2"},{"offset":0.47,"color":"#e2e2e2"},{"offset":0.47,"color":"#ffffff"},{"offset":0.48,"color":"#ffffff"}]}}, "encoding": {"x": {"datum": 2, "type": "quantitative"}, "x2": {"datum": 3.8}}},
   {"data": {"values": [{}]}, "mark": {"type": "rule", "color": "#d8d8d8", "strokeWidth": 2}, "encoding": {"x": {"datum": 3.8, "type": "quantitative"}}},
   {"data": {"name": "f"}, "mark": {"type": "circle", "size": 20, "color": "#0000ff", "opacity": 1},
    "encoding": {
     "x": {"field": "x", "type": "quantitative", "scale": {"type": "linear", "domain": [2, 7], "nice": false, "zero": false}, "axis": {"title": null, "tickCount": 100, "values": [2,2.2,2.4,2.6,2.8,3,3.2,3.4,3.6,3.8,4,4.2,4.4,4.6,4.8,5,5.2,5.4,5.6,5.8,6,6.2,6.4,6.6,6.8,7], "labelExpr": "datum.value==2?'2':datum.value==3?'3':datum.value==4?'4':datum.value==5?'5':datum.value==6?'6':datum.value==7?'7':''", "tickSize": {"condition": {"test": "datum.value==2||datum.value==3||datum.value==4||datum.value==5||datum.value==6||datum.value==7", "value": 10}, "value": 5}}},
     "y": {"field": "y", "type": "quantitative", "scale": {"type": "log", "domain": [18.6, 24000], "nice": false}, "axis": {"title": null, "values": [20,30,40,50,60,70,80,90,100,200,300,400,500,600,700,800,900,1000,2000,3000,4000,5000,6000,7000,8000,9000,10000,20000], "labelExpr": "datum.value==100?'10²':datum.value==1000?'10³':datum.value==10000?'10⁴':''", "tickSize": {"condition": {"test": "abs(log(datum.value)/LN10-round(log(datum.value)/LN10))<0.001", "value": 10}, "value": 5}}}
    }},
   {"data": {"values": [{}]}, "mark": {"type": "text", "text": "(f)", "font": "Liberation Serif", "fontSize": 24, "color": "#222", "align": "center", "baseline": "middle"}, "encoding": {"x": {"datum": 6.5, "type": "quantitative"}, "y": {"datum": 16200, "type": "quantitative"}}}
  ]},
  {"width": 240, "height": 45.5, "data": {"values": [{}]}, "mark": {"type": "text", "text": ""}},
  {"width": 240, "height": 27, "view": {"stroke": "#ff9900", "strokeWidth": 3.5}, "data": {"values": [{}]}, "mark": {"type": "text", "text": "earthquake magnitude", "font": "Liberation Serif", "fontSize": 22, "color": "#333", "align": "center", "baseline": "middle"}, "title": {"text": "California 1910-1992", "orient": "bottom"}}
 ], "spacing": 0, "bounds": "flush", "center": true}
]
}
